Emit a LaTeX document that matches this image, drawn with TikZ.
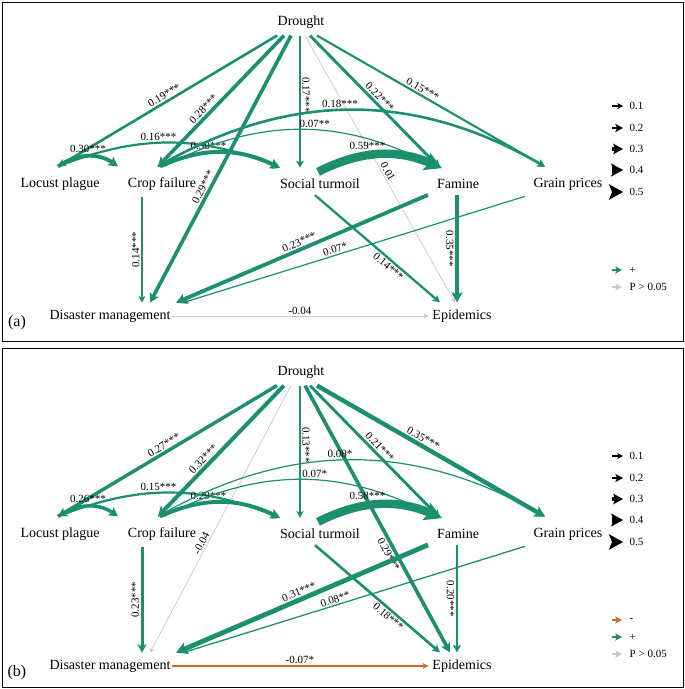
\documentclass[tikz,border=0pt]{standalone}
\usepackage{fontspec}
\setmainfont{Liberation Serif}
\usetikzlibrary{arrows.meta}
\definecolor{grn}{HTML}{1B8F6E}
\definecolor{gry}{HTML}{C8C8C8}
\definecolor{org}{HTML}{D8661E}
\tikzset{
 lab/.style={inner sep=1pt,font=\fontsize{14}{15}\selectfont},
 val/.style={font=\fontsize{11}{12}\selectfont,inner sep=1.5pt},
 tip/.style={-{Stealth[length=3.5pt 1.6,width=3.5pt 1.8,inset=1pt 0.3]}},
 ge/.style={draw=grn,line width=#1,tip},
 ne/.style={draw=gry,line width=0.7pt,tip},
 oe/.style={draw=org,line width=#1,tip},
 ke/.style={draw=black,line width=#1,tip},
}
\begin{document}
\begin{tikzpicture}[x=1pt,y=-1pt]
\useasboundingbox (0,0) rectangle (685,689);
\draw[line width=0.8pt] (2,2) rectangle (683,341) (2,348) rectangle (683,687);
% ---------- panel a
\node[lab] (aD) at (301,22) {Drought};
\node[lab] (aL) at (60,184) {Locust plague};
\node[lab] (aC) at (162,184) {Crop failure};
\node[lab] (aS) at (320,184) {Social turmoil};
\node[lab] (aF) at (458,184) {Famine};
\node[lab] (aG) at (568,184) {Grain prices};
\node[lab] (aM) at (110,316) {Disaster management};
\node[lab] (aE) at (462,316) {Epidemics};
\node[font=\fontsize{16}{17}\selectfont] (aTag) at (17,323) {(a)};
\draw[ge=2.6pt] ([xshift=-24pt,yshift=-6pt]aD.south) -- ([xshift=-2pt,yshift=10pt]aL.north) node[val,sloped,above,pos=0.5]{0.19***};
\draw[ge=3.6pt] ([xshift=-17pt,yshift=-6pt]aD.south) -- ([xshift=-4pt,yshift=10pt]aC.north) node[val,sloped,above,pos=0.6]{0.28***};
\draw[ge=3.6pt] ([xshift=-10pt,yshift=-6pt]aD.south) -- ([xshift=40pt,yshift=6pt]aM.north) node[val,sloped,above,pos=0.58]{0.29***};
\draw[ge=2.3pt] ([xshift=-1pt,yshift=-6pt]aD.south) -- ([xshift=-20pt,yshift=10pt]aS.north) node[val,pos=0.45,xshift=6pt,rotate=-90]{0.17***};
\draw[ne] ([xshift=4pt,yshift=-6pt]aD.south) -- ([xshift=-7pt,yshift=6pt]aE.north) node[val,sloped,above,pos=0.52]{0.01};
\draw[ge=2.9pt] ([xshift=9pt,yshift=-6pt]aD.south) -- ([xshift=-18pt,yshift=10pt]aF.north) node[val,sloped,above,pos=0.5]{0.22***};
\draw[ge=2.1pt] ([xshift=16pt,yshift=-6pt]aD.south) -- ([xshift=-23pt,yshift=10pt]aG.north) node[val,sloped,above,pos=0.45]{0.15***};
\draw[ge=3.8pt] ([xshift=-2pt,yshift=10pt]aL.north) to[bend left=35] node[val,above]{0.30***} ([xshift=-44pt,yshift=10pt]aC.north);
\draw[ge=2.2pt] ([xshift=-2pt,yshift=10pt]aL.north) to[bend left=22] node[val,above,pos=0.45]{0.16***} ([xshift=-40pt,yshift=10pt]aS.north);
\draw[ge=4pt] ([xshift=-2pt,yshift=10pt]aC.north) to[bend left=25] node[val,above,pos=0.4]{0.30***} ([xshift=-40pt,yshift=10pt]aS.north);
\draw[ge=2.6pt] ([xshift=-4pt,yshift=10pt]aC.north) to[bend left=30] node[val,above,pos=0.47]{0.18***} ([xshift=-23pt,yshift=10pt]aG.north);
\draw[ge=1.2pt] ([xshift=2pt,yshift=10pt]aC.north) to[bend left=28] node[val,above,pos=0.55]{0.07**} ([xshift=-20pt,yshift=10pt]aF.north);
\draw[ge=8.5pt] ([xshift=-2pt,yshift=6pt]aS.north) to[bend left=25] node[val,above,pos=0.4]{0.59***} ([xshift=-16pt,yshift=10pt]aF.north);
\draw[ge=1.9pt] ([xshift=-20pt,yshift=-5pt]aC.south) -- ([xshift=32pt,yshift=6pt]aM.north) node[val,pos=0.5,rotate=90,above]{0.14***};
\draw[ge=3.8pt] ([xshift=-30pt,yshift=-5pt]aF.south) -- ([xshift=66pt,yshift=6pt]aM.north) node[val,sloped,above,pos=0.5]{0.23***};
\draw[ge=1.2pt] ([xshift=-43pt,yshift=-5pt]aG.south) -- ([xshift=73pt,yshift=6pt]aM.north) node[val,sloped,above,pos=0.55]{0.07*};
\draw[ge=2.3pt] ([xshift=-5pt,yshift=-5pt]aS.south) -- ([xshift=-22pt,yshift=6pt]aE.north) node[val,sloped,below,pos=0.62]{0.14***};
\draw[ge=4.2pt] ([xshift=-1pt,yshift=-5pt]aF.south) -- ([xshift=-5pt,yshift=6pt]aE.north) node[val,pos=0.5,rotate=-90,below]{0.35***};
\draw[ne] (aM.east) -- ([xshift=-3pt]aE.west) node[val,above,pos=0.5,text=black]{-0.04};
% legend a
\foreach \w/\t/\yy [count=\i] in {1.3/0.1/106,2.6/0.2/128,3.9/0.3/149,5.2/0.4/170,6.5/0.5/192}{
 \coordinate (ka\i) at (612,\yy); \coordinate (kb\i) at (623,\yy);
 \draw[ke=\w pt] (ka\i) -- (kb\i);
 \node[val,anchor=west,font=\fontsize{11}{12}\selectfont] (kl\i) at (628,\yy) {\t};}
\coordinate (pa1) at (612,270); \coordinate (pa2) at (622,270);
\draw[ge=2pt] (pa1) -- (pa2); \node[val,anchor=west] (pla) at (628,270) {+};
\coordinate (pa3) at (612,287); \coordinate (pa4) at (622,287);
\draw[draw=gry,line width=2pt,tip] (pa3) -- (pa4); \node[val,anchor=west] (plb) at (628,287) {P > 0.05};
% ---------- panel b
\begin{scope}[yshift=-350pt]
\node[lab] (bD) at (301,22) {Drought};
\node[lab] (bL) at (60,184) {Locust plague};
\node[lab] (bC) at (162,184) {Crop failure};
\node[lab] (bS) at (320,184) {Social turmoil};
\node[lab] (bF) at (458,184) {Famine};
\node[lab] (bG) at (568,184) {Grain prices};
\node[lab] (bM) at (110,316) {Disaster management};
\node[lab] (bE) at (462,316) {Epidemics};
\node[font=\fontsize{16}{17}\selectfont] (bTag) at (17,323) {(b)};
\draw[ge=3.4pt] ([xshift=-24pt,yshift=-6pt]bD.south) -- ([xshift=-2pt,yshift=10pt]bL.north) node[val,sloped,above,pos=0.5]{0.27***};
\draw[ge=4pt] ([xshift=-17pt,yshift=-6pt]bD.south) -- ([xshift=-4pt,yshift=10pt]bC.north) node[val,sloped,above,pos=0.6]{0.32***};
\draw[ne] ([xshift=-10pt,yshift=-6pt]bD.south) -- ([xshift=40pt,yshift=6pt]bM.north) node[val,sloped,above,pos=0.6]{-0.04};
\draw[ge=2.1pt] ([xshift=-1pt,yshift=-6pt]bD.south) -- ([xshift=-20pt,yshift=10pt]bS.north) node[val,pos=0.45,xshift=6pt,rotate=-90]{0.13***};
\draw[ge=3.6pt] ([xshift=4pt,yshift=-6pt]bD.south) -- ([xshift=-12pt,yshift=6pt]bE.north) node[val,sloped,below,pos=0.62]{0.29***};
\draw[ge=2.9pt] ([xshift=9pt,yshift=-6pt]bD.south) -- ([xshift=-18pt,yshift=10pt]bF.north) node[val,sloped,above,pos=0.5]{0.21***};
\draw[ge=4.4pt] ([xshift=16pt,yshift=-6pt]bD.south) -- ([xshift=-23pt,yshift=10pt]bG.north) node[val,sloped,above,pos=0.45]{0.35***};
\draw[ge=3.4pt] ([xshift=-2pt,yshift=10pt]bL.north) to[bend left=35] node[val,above]{0.26***} ([xshift=-44pt,yshift=10pt]bC.north);
\draw[ge=2.2pt] ([xshift=-2pt,yshift=10pt]bL.north) to[bend left=22] node[val,above,pos=0.45]{0.15***} ([xshift=-40pt,yshift=10pt]bS.north);
\draw[ge=3.9pt] ([xshift=-2pt,yshift=10pt]bC.north) to[bend left=25] node[val,above,pos=0.4]{0.29***} ([xshift=-40pt,yshift=10pt]bS.north);
\draw[ge=1.2pt] ([xshift=-4pt,yshift=10pt]bC.north) to[bend left=30] node[val,above,pos=0.47]{0.08*} ([xshift=-23pt,yshift=10pt]bG.north);
\draw[ge=1.2pt] ([xshift=2pt,yshift=10pt]bC.north) to[bend left=28] node[val,above,pos=0.55]{0.07*} ([xshift=-20pt,yshift=10pt]bF.north);
\draw[ge=8.4pt] ([xshift=-2pt,yshift=6pt]bS.north) to[bend left=25] node[val,above,pos=0.4]{0.58***} ([xshift=-16pt,yshift=10pt]bF.north);
\draw[ge=3pt] ([xshift=-20pt,yshift=-5pt]bC.south) -- ([xshift=32pt,yshift=6pt]bM.north) node[val,pos=0.5,rotate=90,above]{0.23***};
\draw[ge=4.8pt] ([xshift=-30pt,yshift=-5pt]bF.south) -- ([xshift=66pt,yshift=6pt]bM.north) node[val,sloped,above,pos=0.5]{0.31***};
\draw[ge=1.3pt] ([xshift=-43pt,yshift=-5pt]bG.south) -- ([xshift=73pt,yshift=6pt]bM.north) node[val,sloped,above,pos=0.55]{0.08**};
\draw[ge=2.6pt] ([xshift=-5pt,yshift=-5pt]bS.south) -- ([xshift=-22pt,yshift=6pt]bE.north) node[val,sloped,below,pos=0.62]{0.18***};
\draw[ge=2.6pt] ([xshift=-1pt,yshift=-5pt]bF.south) -- ([xshift=-5pt,yshift=6pt]bE.north) node[val,pos=0.5,rotate=-90,below]{0.20***};
\draw[oe=1.3pt] (bM.east) -- ([xshift=-3pt]bE.west) node[val,above,pos=0.5,text=black]{-0.07*};
\foreach \w/\t/\yy [count=\i] in {1.3/0.1/106,2.6/0.2/128,3.9/0.3/149,5.2/0.4/170,6.5/0.5/192}{
 \coordinate (kc\i) at (612,\yy); \coordinate (kd\i) at (623,\yy);
 \draw[ke=\w pt] (kc\i) -- (kd\i);
 \node[val,anchor=west,font=\fontsize{11}{12}\selectfont] (km\i) at (628,\yy) {\t};}
\coordinate (pb0) at (612,270); \coordinate (pb9) at (622,270);
\draw[oe=2pt] (pb0) -- (pb9); \node[val,anchor=west] (plm) at (628,270) {-};
\coordinate (pb1) at (612,287); \coordinate (pb2) at (622,287);
\draw[ge=2pt] (pb1) -- (pb2); \node[val,anchor=west] (plc) at (628,287) {+};
\coordinate (pb3) at (612,304); \coordinate (pb4) at (622,304);
\draw[draw=gry,line width=2pt,tip] (pb3) -- (pb4); \node[val,anchor=west] (pld) at (628,304) {P > 0.05};
\end{scope}
\end{tikzpicture}
\end{document}
